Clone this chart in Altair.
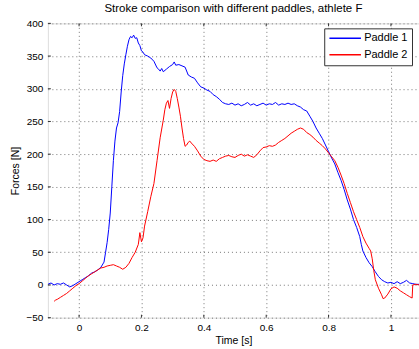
import altair as alt
import pandas as pd

# Paddle 1 (blue)
t1 = [-0.10, -0.09, -0.08, -0.07, -0.06, -0.05, -0.04, -0.03, -0.02, -0.01,
      0.00, 0.01, 0.02, 0.03, 0.04, 0.05, 0.06, 0.07, 0.08, 0.085, 0.09, 0.095,
      0.10, 0.105, 0.11, 0.115, 0.12, 0.125, 0.13, 0.135, 0.14, 0.145, 0.15,
      0.155, 0.16, 0.165, 0.17, 0.175, 0.18, 0.185, 0.19, 0.195, 0.20, 0.205,
      0.21, 0.22, 0.23, 0.24, 0.25, 0.255, 0.26, 0.265, 0.27, 0.28, 0.29, 0.30,
      0.305, 0.31, 0.32, 0.33, 0.34, 0.35, 0.36, 0.37, 0.38, 0.39, 0.40, 0.41,
      0.42, 0.43, 0.44, 0.45, 0.46, 0.47, 0.48, 0.49, 0.50, 0.51, 0.52, 0.53,
      0.54, 0.55, 0.56, 0.57, 0.58, 0.59, 0.60, 0.61, 0.62, 0.63, 0.64, 0.65,
      0.66, 0.67, 0.68, 0.69, 0.70, 0.71, 0.72, 0.73, 0.74, 0.75, 0.76, 0.77,
      0.78, 0.79, 0.80, 0.81, 0.82, 0.83, 0.84, 0.85, 0.86, 0.87, 0.88, 0.89,
      0.90, 0.905, 0.91, 0.92, 0.93, 0.94, 0.95, 0.96, 0.97, 0.98, 0.99, 1.00,
      1.01, 1.02, 1.03, 1.04, 1.05, 1.06, 1.07, 1.08, 1.09]
f1 = [1, 3, 0, 2, 1, 3, 0, -3, -1, 2,
      5, 8, 11, 14, 18, 20, 23, 27, 35, 50, 65, 85,
      110, 150, 190, 220, 240, 248, 265, 295, 320, 338, 352,
      365, 375, 380, 378, 382, 377, 378, 370, 366, 358, 356,
      352, 350, 347, 342, 332, 330, 327, 331, 326, 330, 334, 337,
      341, 336, 337, 335, 333, 321, 318, 316, 309, 303, 301, 298,
      296, 291, 288, 284, 279, 277, 276, 278, 275, 277, 274, 276,
      279, 275, 277, 274, 276, 278, 275, 277, 276, 279, 275, 277,
      276, 278, 276, 277, 274, 272, 268, 266, 258, 250, 240, 232,
      224, 214, 204, 194, 185, 172, 160, 146, 130, 116, 100, 88,
      74, 62, 52, 42, 34, 28, 20, 13, 8, 5, 3, 4,
      2, 5, 2, 4, 7, 3, 2, 1, 1]

# Paddle 2 (red)
t2 = [-0.08, -0.075, -0.07, -0.06, -0.05, -0.04, -0.03, -0.02, -0.01,
      0.00, 0.01, 0.02, 0.03, 0.04, 0.05, 0.06, 0.07, 0.08, 0.09, 0.10, 0.11,
      0.12, 0.13, 0.14, 0.15, 0.16, 0.17, 0.18, 0.19, 0.195, 0.20, 0.205, 0.21,
      0.22, 0.23, 0.24, 0.25, 0.26, 0.27, 0.275, 0.28, 0.285, 0.29, 0.295, 0.30,
      0.305, 0.31, 0.315, 0.32, 0.325, 0.33, 0.335, 0.34, 0.345, 0.35, 0.355,
      0.36, 0.37, 0.38, 0.39, 0.40, 0.41, 0.42, 0.43, 0.44, 0.45, 0.46, 0.47,
      0.48, 0.49, 0.50, 0.51, 0.52, 0.53, 0.54, 0.55, 0.56, 0.57, 0.58, 0.59,
      0.60, 0.61, 0.62, 0.63, 0.64, 0.65, 0.66, 0.67, 0.68, 0.69, 0.70, 0.71,
      0.72, 0.73, 0.74, 0.75, 0.76, 0.77, 0.78, 0.79, 0.80, 0.81, 0.82, 0.83,
      0.84, 0.85, 0.86, 0.87, 0.88, 0.89, 0.90, 0.91, 0.92, 0.93, 0.935, 0.94,
      0.945, 0.95, 0.96, 0.97, 0.975, 0.98, 0.99, 1.00, 1.01, 1.02, 1.03, 1.04,
      1.05, 1.06, 1.068, 1.07, 1.08, 1.09]
f2 = [-25, -23, -22, -19, -16, -13, -9, -5, -1,
      2, 6, 10, 14, 17, 20, 23, 26, 27, 29, 30, 31,
      29, 27, 24, 27, 33, 42, 50, 62, 80, 66, 72, 90,
      112, 135, 155, 190, 225, 252, 268, 278, 282, 270, 285, 295,
      299, 296, 285, 272, 258, 240, 224, 212, 214, 218, 220,
      217, 212, 205, 197, 192, 190, 189, 191, 189, 193, 195, 197,
      198, 196, 195, 198, 200, 197, 199, 197, 195, 199, 205, 210,
      211, 213, 212, 214, 218, 221, 224, 228, 232, 235, 238, 240,
      238, 233, 230, 226, 221, 217, 213, 208, 202, 196, 190, 180,
      168, 155, 140, 126, 112, 100, 88, 74, 64, 56, 52, 40,
      22, 8, -5, -15, -21, -20, -14, -6, -3, -5, -9, -12,
      -15, -18, -20, 0, 1, 0]

x_ticks = [0, 0.2, 0.4, 0.6, 0.8, 1.0]
y_ticks = [-50, 0, 50, 100, 150, 200, 250, 300, 350, 400]
series_names = ["Paddle 1", "Paddle 2"]
series_colors = ["#0000ff", "#ff0000"]

X_DOMAIN = [-0.1, 1.09]
Y_DOMAIN = [-50, 400]

df = pd.concat([
    pd.DataFrame({"t": t1, "f": f1, "s": series_names[0], "o": range(len(t1))}),
    pd.DataFrame({"t": t2, "f": f2, "s": series_names[1], "o": range(len(t2))}),
])

xs = alt.Scale(domain=X_DOMAIN, nice=False, zero=False)
ys = alt.Scale(domain=Y_DOMAIN, nice=False, zero=False)

FONT = "Liberation Sans"
GRID = dict(grid=True, ticks=False, domain=False, labelOverlap=False,
            gridDash=[1, 3], gridColor="#555555", gridOpacity=0.8,
            labelFont=FONT, labelFontSize=10, labelColor="black",
            titleFont=FONT, titleFontSize=10.5, titleFontWeight="normal",
            titleColor="black")

xaxis = alt.Axis(values=x_ticks, title="Time [s]",
                 labelExpr="(datum.value == 0 || datum.value == 1) ? format(datum.value, 'd') : format(datum.value, '.1f')",
                 labelPadding=5, titlePadding=3, **GRID)
yaxis = alt.Axis(values=y_ticks, title="Forces [N]",
                 labelPadding=5, titlePadding=5, **GRID)

lines = alt.Chart(df).mark_line(strokeWidth=1, clip=True).encode(
    x=alt.X("t:Q", scale=xs, axis=xaxis),
    y=alt.Y("f:Q", scale=ys, axis=yaxis),
    color=alt.Color("s:N", scale=alt.Scale(domain=series_names, range=series_colors),
                    legend=alt.Legend(
                        title=None, orient="none", legendX=277, legendY=5,
                        symbolType="stroke", symbolSize=1000, symbolStrokeWidth=1.5,
                        clipHeight=12,
                        strokeColor="#333333", fillColor="white", padding=4,
                        labelFontSize=11, labelFont=FONT, labelColor="black",
                        rowPadding=4.5, labelOffset=2)),
    order="o:Q",
)

tick_df_x = pd.DataFrame({"t": x_ticks})
tick_df_y = pd.DataFrame({"f": y_ticks})

xt_bottom = alt.Chart(tick_df_x).mark_rule(color="#333333", strokeWidth=1).encode(
    x=alt.X("t:Q", scale=xs, axis=xaxis),
    y=alt.YDatum(-50, scale=ys, axis=yaxis), y2=alt.datum(-45.5))
xt_top = alt.Chart(tick_df_x).mark_rule(color="#333333", strokeWidth=1).encode(
    x=alt.X("t:Q", scale=xs, axis=xaxis),
    y=alt.YDatum(400, scale=ys, axis=yaxis), y2=alt.datum(395.5))
yt_left = alt.Chart(tick_df_y).mark_rule(color="#333333", strokeWidth=1).encode(
    y=alt.Y("f:Q", scale=ys, axis=yaxis),
    x=alt.XDatum(-0.1, scale=xs, axis=xaxis), x2=alt.datum(-0.0905))

chart = alt.layer(lines, xt_bottom, xt_top, yt_left).properties(
    width=372, height=295,
    title=alt.TitleParams("Stroke comparison with different paddles, athlete F",
                          fontSize=11.5, font=FONT, fontWeight="normal",
                          color="black", offset=4),
    padding={"left": 48, "top": 23, "right": 0, "bottom": 31},
    autosize=alt.AutoSizeParams(type="none"),
).configure_view(
    stroke="#333333", strokeWidth=1
).configure(background="white")

chart.save("out.html", embed_options={"renderer": "svg", "actions": False})
